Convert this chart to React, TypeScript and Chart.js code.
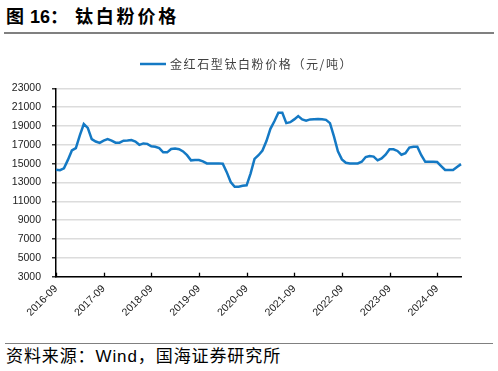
import React, { useEffect, useRef } from 'react';
import { Chart, registerables } from 'chart.js';

Chart.register(...registerables);

// Monthly categories 2016-09 .. 2025-03
const startYear = 2016;
const startMonth = 9;
const monthCount = 103;
const categories: string[] = [];
for (let i = 0; i < monthCount; i++) {
  const m = startMonth - 1 + i;
  const y = startYear + Math.floor(m / 12);
  const mm = (m % 12) + 1;
  categories.push(`${y}-${mm < 10 ? '0' + mm : mm}`);
}

const xTickLabels = ['2016-09', '2017-09', '2018-09', '2019-09', '2020-09', '2021-09', '2022-09', '2023-09', '2024-09'];
const yTicks = [3000, 5000, 7000, 9000, 11000, 13000, 15000, 17000, 19000, 21000, 23000];

const seriesLabel = '金红石型钛白粉价格（元/吨）';
const priceValues = [
  14350, 14300, 14500, 15400, 16400, 16650, 18000, 19200, 18800, 17600, 17350, 17200,
  17440, 17600, 17450, 17230, 17230, 17440, 17450, 17500, 17350, 17000, 17150, 17100,
  16850, 16800, 16650, 16200, 16200, 16550, 16600, 16530, 16300, 15900, 15350, 15390,
  15390, 15250, 15030, 15030, 15030, 15030, 15000, 14100, 13050, 12550, 12550, 12650,
  12700, 13950, 15500, 15900, 16400, 17400, 18700, 19500, 20400, 20400, 19300, 19400,
  19700, 20050, 19700, 19560, 19700, 19720, 19740, 19720, 19650, 19300, 17900, 16300,
  15450, 15100, 15030, 15030, 15030, 15200, 15700, 15810, 15750, 15350, 15550, 15950,
  16530, 16530, 16350, 15950, 16100, 16700, 16800, 16800, 15900, 15200, 15200, 15200,
  15170, 14750, 14330, 14330, 14330, 14650, 14950,
];

const LINE_COLOR = '#1479c4';

const customLegend = {
  id: 'customLegend',
  afterDraw(chart: any) {
    const ctx = chart.ctx;
    const ds = chart.data.datasets[0];
    ctx.save();
    ctx.strokeStyle = ds.borderColor;
    ctx.lineWidth = 2.5;
    ctx.beginPath();
    ctx.moveTo(140, 24);
    ctx.lineTo(166, 24);
    ctx.stroke();
    ctx.font = '12px "Noto Sans CJK SC"';
    ctx.fillStyle = '#404040';
    ctx.textBaseline = 'middle';
    ctx.textAlign = 'left';
    try { (ctx as any).letterSpacing = '1.6px'; } catch (e) {}
    ctx.fillText(ds.label, 170, 24.5);
    ctx.restore();
  },
};

const innerTicks = {
  id: 'innerTicks',
  afterDraw(chart: any) {
    const ctx = chart.ctx;
    const xs = chart.scales.x;
    const bottom = chart.chartArea.bottom;
    ctx.save();
    ctx.strokeStyle = '#000';
    ctx.lineWidth = 1.3;
    categories.forEach((c, i) => {
      if (xTickLabels.includes(c)) {
        const px = Math.round(xs.getPixelForValue(i)) + 0.5;
        ctx.beginPath();
        ctx.moveTo(px, bottom);
        ctx.lineTo(px, bottom - 4);
        ctx.stroke();
      }
    });
    ctx.restore();
  },
};

function ChartView() {
  const ref = useRef<HTMLCanvasElement | null>(null);
  useEffect(() => {
    if (!ref.current) return;
    const chart = new Chart(ref.current, {
      type: 'line',
      data: {
        labels: categories,
        datasets: [
          {
            label: seriesLabel,
            data: priceValues,
            borderColor: LINE_COLOR,
            backgroundColor: LINE_COLOR,
            borderWidth: 2.5,
            pointRadius: 0,
            tension: 0,
            fill: false,
          },
        ],
      },
      options: {
        animation: false,
        responsive: false,
        devicePixelRatio: 1,
        layout: { padding: { left: 0, right: 37, top: 48.3, bottom: 0 } },
        plugins: { legend: { display: false }, tooltip: { enabled: false } },
        scales: {
          x: {
            type: 'category',
            offset: false,
            grid: { display: false, drawTicks: false },
            border: { display: true, color: '#000', width: 1.5 },
            ticks: {
              autoSkip: false,
              maxRotation: 45,
              minRotation: 45,
              padding: 6,
              color: '#222',
              font: { family: '"Liberation Sans", Arial', size: 10.5 },
              callback: (_v: any, i: number) => (xTickLabels.includes(categories[i]) ? categories[i] : ''),
            },
            afterFit: (s: any) => { s.height = 53.3; },
          },
          y: {
            min: 3000,
            max: 23000,
            afterBuildTicks: (s: any) => { s.ticks = yTicks.map((v) => ({ value: v })); },
            grid: { color: '#dcdcdc', lineWidth: 1.6, drawTicks: true, tickLength: 4, tickColor: '#000', tickWidth: 1.2 },
            border: { display: true, color: '#000', width: 1.5 },
            ticks: {
              padding: 11,
              color: '#222',
              font: { family: '"Liberation Sans", Arial', size: 10.5 },
              callback: (v: any) => String(v),
            },
            afterFit: (s: any) => { s.width = 56; },
          },
        },
      },
      plugins: [customLegend, innerTicks],
    });
    return () => chart.destroy();
  }, []);
  return <canvas ref={ref} width={498} height={290} style={{ position: 'absolute', left: 0, top: 40, width: 498, height: 290 }} />;
}

export default function App() {
  const cjk = '"Liberation Sans", "Noto Sans CJK SC", sans-serif';
  return (
    <div style={{ position: 'absolute', left: 0, top: 0, width: 498, height: 371, background: '#fff', overflow: 'hidden' }}>
      <div style={{ position: 'absolute', left: 6, top: 6.7, lineHeight: '20px', fontSize: 18, fontWeight: 'bold', fontFamily: cjk, color: '#000', whiteSpace: 'nowrap' }}>
        <span>图</span>
        <span style={{ position: 'absolute', left: 24 }}>16：</span>
        <span style={{ position: 'absolute', left: 69, letterSpacing: 2.8 }}>钛白粉价格</span>
      </div>
      <div style={{ position: 'absolute', left: 4, top: 31.5, width: 490, height: 2, background: '#808080' }} />
      <ChartView />
      <div style={{ position: 'absolute', left: 5, top: 342.5, width: 488, height: 1.5, background: '#808080' }} />
      <div style={{ position: 'absolute', left: 6, top: 346.7, lineHeight: '20px', fontSize: 17, fontFamily: cjk, color: '#000', whiteSpace: 'nowrap', letterSpacing: 0.9 }}>
        资料来源：Wind，国海证券研究所
      </div>
    </div>
  );
}
